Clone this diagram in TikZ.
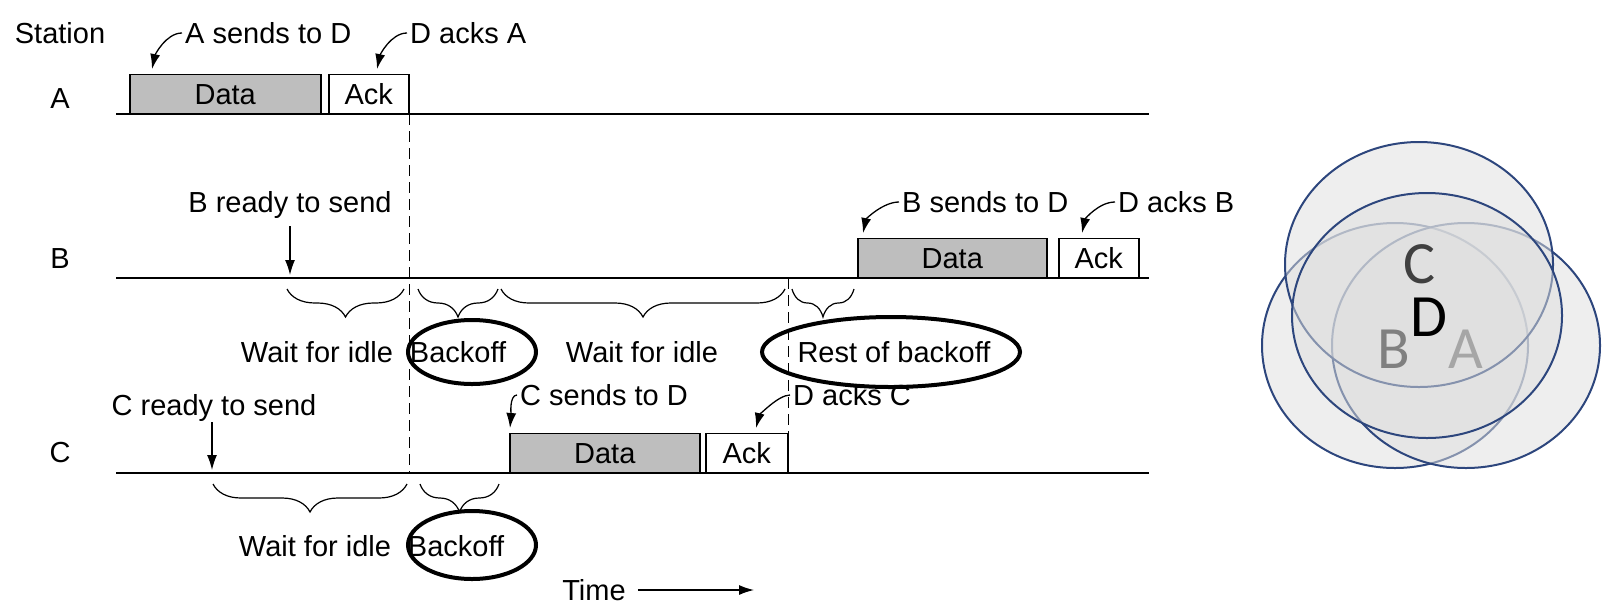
\documentclass[tikz,border=0pt]{standalone}
\usepackage{fontspec}
\setmainfont{Liberation Sans}
\newfontfamily\venfont{Carlito}
\usetikzlibrary{arrows.meta,decorations.pathreplacing,calc}
\definecolor{venn}{RGB}{45,70,125}
\definecolor{dgray}{RGB}{190,190,190}
\begin{document}
\begin{tikzpicture}[x=1pt,y=1pt,
  lbl/.style={inner sep=0pt, font=\fontsize{29}{31}\selectfont, text height=21pt, text depth=0pt},
  box/.style={draw, line width=1.5pt, minimum height=39pt, inner sep=0pt, font=\fontsize{29}{31}\selectfont, text height=21pt, text depth=0pt, anchor=south west},
  databox/.style={box, fill=dgray},
  base/.style={line width=1.5pt},
  vline/.style={line width=1.4pt, dash pattern=on 11pt off 6pt},
  brc/.style={decorate, decoration={brace, mirror, amplitude=28pt}, line width=1.2pt},
  arr/.style={line width=1.3pt, -{Latex[length=15pt,width=10pt]}},
  hl/.style={line width=4pt},
  vset/.style={draw=venn, line width=2pt, fill=black!13, fill opacity=0.5},
  vlet/.style={inner sep=0pt, font=\venfont\fontsize{60}{62}\selectfont, text height=37pt, text depth=0pt}
]
\useasboundingbox (0,0) rectangle (1608,-614);

% station labels
\node[lbl] (st) at (60,-33) {Station};
\node[lbl] (sA) at (60,-98) {A};
\node[lbl] (sB) at (60,-258) {B};
\node[lbl] (sC) at (60,-452) {C};

% time lines
\coordinate (As) at (116,-114); \coordinate (Ae) at (1149,-114);
\coordinate (Bs) at (116,-278); \coordinate (Be) at (1149,-278);
\coordinate (Cs) at (116,-473); \coordinate (Ce) at (1149,-473);
\draw[base] (As) -- (Ae);
\draw[base] (Bs) -- (Be);
\draw[base] (Cs) -- (Ce);

% boxes
\node[databox, minimum width=191pt] (dA) at (129,-114) {Data};
\node[box, minimum width=80pt] (kA) at (328,-114) {Ack};
\node[databox, minimum width=189pt] (dB) at (857,-278) {Data};
\node[box, minimum width=80pt] (kB) at (1058,-278) {Ack};
\node[databox, minimum width=190pt] (dC) at (509,-473) {Data};
\node[box, minimum width=82pt] (kC) at (705,-473) {Ack};

% dashed verticals
\draw[vline] (kA.south east) -- (kA.south east |- Cs);
\draw[vline] (kC.north east |- Bs) -- (kC.north east);

% labels with curved arrows
\node[lbl, anchor=west] (tA) at (185,-33) {A sends to D};
\node[lbl, anchor=west] (tDA) at (410,-33) {D acks A};
\node[lbl, anchor=west] (tB) at (902,-202) {B sends to D};
\node[lbl, anchor=west] (tDB) at (1118,-202) {D acks B};
\node[lbl, anchor=west] (tC) at (520,-395) {C sends to D};
\node[lbl, anchor=west] (tDC) at (793,-395) {D acks C};
\coordinate (pA) at (152,-69);
\coordinate (pDA) at (377,-69);
\coordinate (pB) at (863,-233);
\coordinate (pDB) at (1082,-233);
\coordinate (pC) at (510,-428);
\coordinate (pDC) at (756,-428);
\draw[arr] ([xshift=-3pt]tA.west) .. controls +(-16,0) and +(3,14) .. (pA);
\draw[arr] ([xshift=-3pt]tDA.west) .. controls +(-16,0) and +(3,14) .. (pDA);
\draw[arr] ([xshift=-3pt]tB.west) .. controls +(-16,0) and +(3,14) .. (pB);
\draw[arr] ([xshift=-3pt]tDB.west) .. controls +(-16,0) and +(3,14) .. (pDB);
\draw[arr] ([xshift=-3pt]tC.west) .. controls +(-8,0) and +(1,12) .. (pC);
\draw[arr] ([xshift=-3pt]tDC.west) .. controls +(-12,0) and +(3,12) .. (pDC);

% ready to send
\node[lbl] (rB) at (290,-202) {B ready to send};
\node[lbl] (rC) at (214,-405) {C ready to send};
\coordinate (rBs) at (290,-226); \coordinate (rBe) at (290,-275);
\coordinate (rCs) at (212,-422); \coordinate (rCe) at (212,-470);
\draw[arr] (rBs) -- (rBe);
\draw[arr] (rCs) -- (rCe);

% braces B row
\draw[brc] (287,-289) -- (404,-289);
\draw[brc] (418,-289) -- (498,-289);
\draw[brc] (501,-289) -- (785,-289);
\draw[brc] (792,-289) -- (854,-289);
\node[lbl] (wB1) at (317,-352) {Wait for idle};
\node[lbl] (bB) at (458,-352) {Backoff};
\node[lbl] (wB2) at (642,-352) {Wait for idle};
\node[lbl] (rest) at (894,-352) {Rest of backoff};

% braces C row
\draw[brc] (213,-484) -- (407,-484);
\draw[brc] (420,-484) -- (499,-484);
\node[lbl] (wC1) at (315,-546) {Wait for idle};
\node[lbl] (bC) at (456,-546) {Backoff};

% highlight ellipses
\draw[hl] (472,-352) ellipse [x radius=64, y radius=32];
\draw[hl] (891,-352) ellipse [x radius=129, y radius=35];
\draw[hl] (472,-545) ellipse [x radius=64, y radius=34];

% time
\node[lbl] (tT) at (594,-590) {Time};
\coordinate (tTe) at (754,-590);
\draw[arr] ([xshift=12pt]tT.east) -- (tTe);

% venn
\draw[vset] (1395,-345.5) ellipse [x radius=133, y radius=122.5];
\draw[vset] (1466,-345.5) ellipse [x radius=134, y radius=122.5];
\draw[vset] (1419,-264.5) ellipse [x radius=134, y radius=122.5];
\draw[vset] (1427,-315.5) ellipse [x radius=135, y radius=122.5];
\node[vlet, text=black!75] (vC) at (1419,-265) {C};
\node[vlet, text=black] (vD) at (1429,-318) {D};
\node[vlet, text=black!50] (vB) at (1394,-350) {B};
\node[vlet, text=black!35] (vA) at (1466,-350) {A};
\end{tikzpicture}
\end{document}
